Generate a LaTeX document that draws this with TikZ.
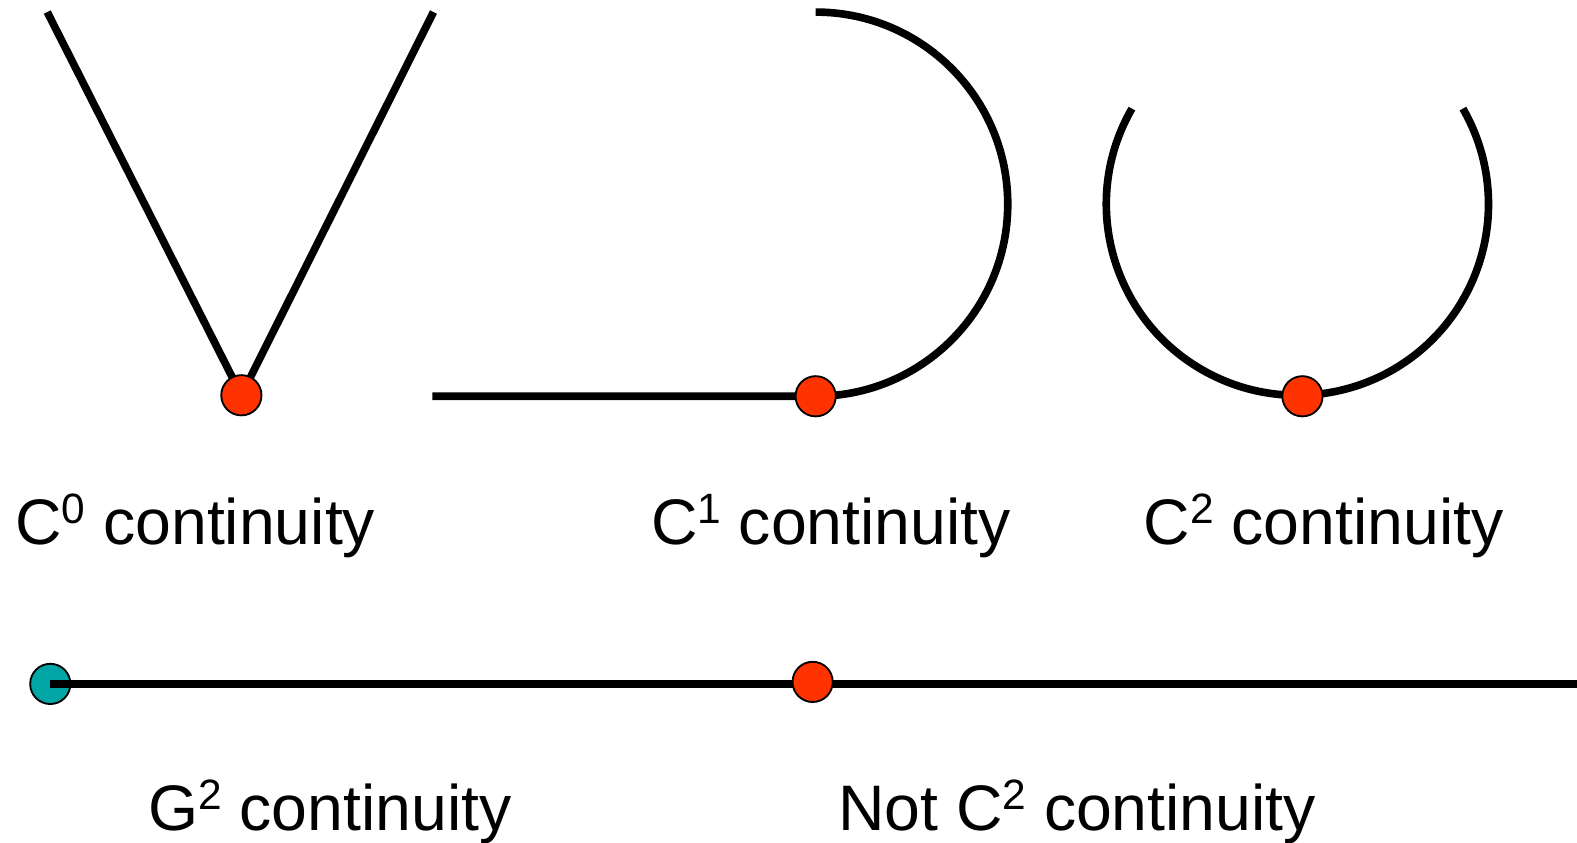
\documentclass[tikz,border=0pt]{standalone}
\usepackage{fontspec}
\setmainfont{Liberation Sans}
\definecolor{dotred}{RGB}{255,51,0}
\definecolor{dotteal}{RGB}{0,166,166}
\newcommand\supnum[1]{\raisebox{0.62ex}{\fontsize{30}{30}\selectfont #1}}

\begin{document}
\begin{tikzpicture}[x=0.025cm,y=-0.025cm,
  curve/.style={line width=5.4pt},
  joint/.style={circle,draw,line width=1.3pt,fill=dotred,minimum size=1cm,inner sep=0pt},
  caption/.style={anchor=base west,inner sep=0pt,font=\fontsize{45.5}{54}\selectfont}]
\useasboundingbox (0,0) rectangle (1568,838);
% C0
\coordinate (VL) at (47,12);
\coordinate (VR) at (431,12);
\coordinate (V0) at (240,393);
\draw[curve] (VL)--(V0)--(VR);
\node[joint] (J0) at (V0) {};
% C1
\coordinate (HL) at (430,394);
\coordinate (H1) at (811,394);
\draw[curve] (HL)--(H1) arc[start angle=90,end angle=-90,radius=191];
\node[joint] (J1) at (H1) {};
% C2
\draw[curve] (1290,203) ++(210:190) arc[start angle=210,end angle=-30,radius=190];
\node[joint] (J2) at (1295,394) {};
% bottom line
\node[joint,fill=dotteal] (G) at (50,680) {};
\coordinate (E) at (1568,680);
\draw[curve] (G.center)--(E);
\node[joint] (J3) at (808,678) {};
% captions
\node[caption] (T0) at (15,541) {C\supnum{0} continuity};
\node[caption] (T1) at (647,541) {C\supnum{1} continuity};
\node[caption] (T2) at (1137,541) {C\supnum{2} continuity};
\node[caption] (T3) at (147,826) {G\supnum{2} continuity};
\node[caption] (T4) at (833,826) {Not C\supnum{2} continuity};
\end{tikzpicture}
\end{document}
